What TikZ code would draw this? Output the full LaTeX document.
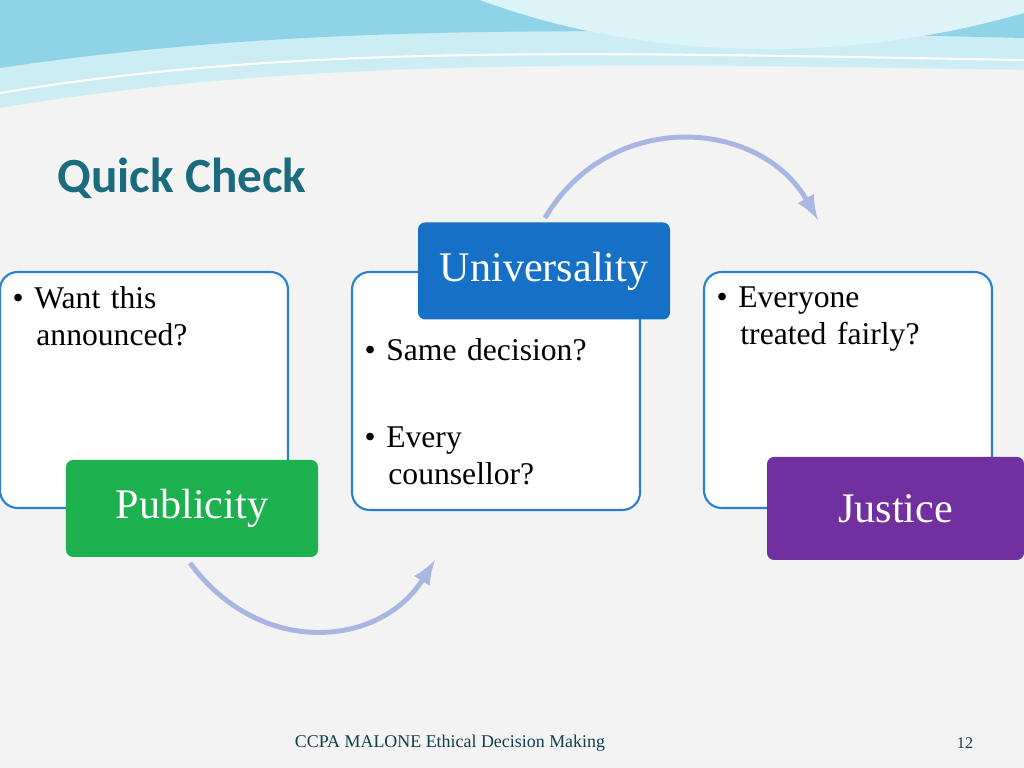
\documentclass[tikz,border=0pt]{standalone}
\usepackage{fontspec}
\setmainfont{Liberation Serif}
\newfontfamily\titlefont{Carlito}
\usetikzlibrary{positioning}
\definecolor{bgray}{HTML}{F3F3F3}
\definecolor{edgeblue}{HTML}{2A7FD4}
\definecolor{unicol}{HTML}{1570C6}
\definecolor{pubcol}{HTML}{1DB04F}
\definecolor{juscol}{HTML}{7030A0}
\definecolor{arccol}{HTML}{A9B6E2}
\definecolor{titlecol}{HTML}{1B6B7E}
\definecolor{wave1}{HTML}{8FD3E6}
\definecolor{wave2}{HTML}{CDEDF4}
\tikzset{
  card/.style={draw=edgeblue, line width=0.6pt, fill=white, rounded corners=5pt},
  tag/.style={rounded corners=2pt, text=white, font=\fontsize{12}{14}\selectfont, minimum height=0.97cm, inner sep=0pt},
  item/.style={anchor=north west, align=left, font=\fontsize{9}{10.5}\selectfont, text width=2.6cm, inner sep=0pt},
  cycle arrow/.style={draw=arccol, line width=1.4pt, -latex}
}
\begin{document}
\begin{tikzpicture}[x=1cm,y=1cm]
  \fill[bgray] (0,0) rectangle (10.24,7.68);
  \useasboundingbox (0,0) rectangle (10.24,7.68);
  % top waves
  \fill[wave2] (0,7.68) -- (0,6.6) .. controls (3,7.1) and (6,7.05) .. (10.24,6.98) -- (10.24,7.68) -- cycle;
  \fill[wave1] (0,7.68) -- (0,7.0) .. controls (3,7.45) and (6,7.4) .. (10.24,7.3) -- (10.24,7.68) -- cycle;
  \fill[wave2!70!white] (4.8,7.68) .. controls (6.5,7.05) and (8.5,7.05) .. (10.24,7.55) -- (10.24,7.68) -- cycle;
  \draw[white, line width=0.6pt] (0,6.75) .. controls (3,7.25) and (6,7.15) .. (10.24,7.08);
  % title
  \node[anchor=west, text=titlecol, font=\titlefont\bfseries\fontsize{14}{17}\selectfont] (title) at (0.45,5.9) {Quick Check};
  % cards
  \draw[card] (0,2.6) rectangle (2.88,4.96);
  \draw[card] (3.52,2.58) rectangle (6.40,4.96);
  \draw[card] (7.04,2.6) rectangle (9.92,4.96);
  \node[item] (want) at (0.12,4.82) {\textbullet\ Want this\\\hspace*{0.75em}announced?};
  \node[item] (same) at (3.64,4.3) {\textbullet\ Same decision?};
  \node[item] (every) at (3.64,3.42) {\textbullet\ Every\\\hspace*{0.75em}counsellor?};
  \node[item] (fair) at (7.16,4.82) {\textbullet\ Everyone\\\hspace*{0.75em}treated fairly?};
  % tags
  \node[tag, fill=unicol, minimum width=2.52cm] (uni) at (5.44,4.97) {Universality};
  \node[tag, fill=pubcol, minimum width=2.52cm] (pub) at (1.92,2.595) {Publicity};
  \node[tag, fill=juscol, minimum width=2.57cm, minimum height=1.03cm] (jus) at (8.955,2.595) {Justice};
  % arcs
  \coordinate (topA) at (5.45,5.5);
  \coordinate (topB) at (8.18,5.48);
  \coordinate (botA) at (1.9,2.05);
  \coordinate (botB) at (4.35,2.08);
  \draw[cycle arrow] (topA) .. controls (6.1,6.6) and (7.6,6.5) .. (topB);
  \draw[cycle arrow] (botA) .. controls (2.6,1.1) and (3.8,1.2) .. (botB);
  % footer
  \node[font=\fontsize{5.1}{6}\selectfont, text=titlecol!60!black] (foot) at (4.5,0.25) {CCPA MALONE Ethical Decision Making};
  \node[font=\fontsize{4.6}{6}\selectfont, text=titlecol!60!black] (page) at (9.65,0.25) {12};
\end{tikzpicture}
\end{document}
